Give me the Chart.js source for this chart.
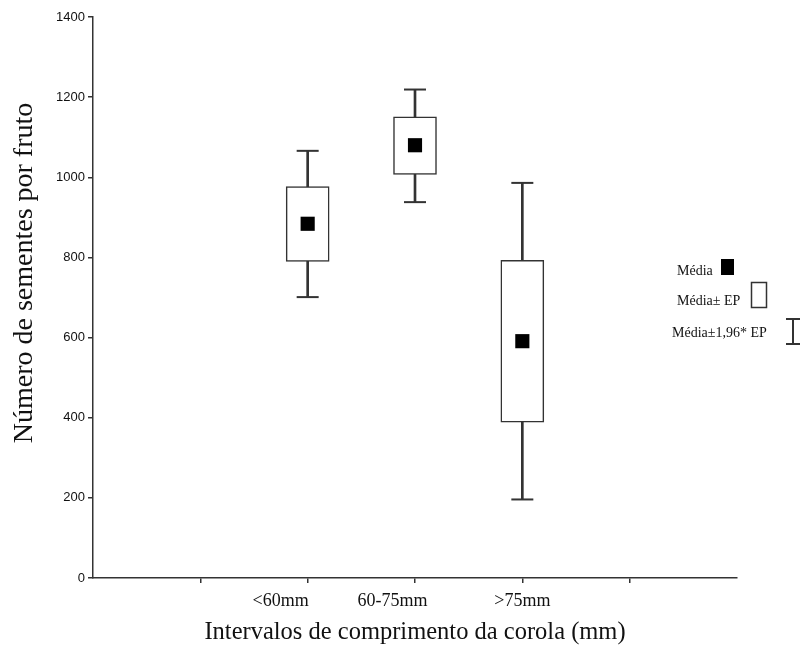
<!DOCTYPE html>
<html>
<head>
<meta charset="UTF-8">
<title>Sementes por fruto</title>
<style>
	body { margin: 0; background: #fff; }
	.container { width: 800px; height: 649px; position: relative; }
</style>
<script src="https://cdn.jsdelivr.net/npm/chart.js@4.4.1/dist/chart.umd.min.js"></script>
</head>
<body>
<div class="container">
	<canvas id="myChart" width="800" height="649"></canvas>
</div>
<script>
	// categories and values
	var categories = ['<60mm', '60-75mm', '>75mm'];
	var means  = [884, 1080, 591];
	var seLow  = [790, 1007, 389];   // Média - EP
	var seHigh = [977, 1151, 793];   // Média + EP
	var ciLow  = [701, 938, 196];    // Média - 1,96*EP
	var ciHigh = [1066, 1219, 986];  // Média + 1,96*EP
	var yTicks = [0, 200, 400, 600, 800, 1000, 1200, 1400];

	var ink = '#333';
	var serif = '"Liberation Serif", "Times New Roman", serif';

	// categories sit on slots 2..4 of a 0..6 axis
	function slot(i) { return i + 2; }

	// in the original the first two labels sit left of their tick
	var labelPad = [12, 10, 0];

	var boxData = [], whiskerData = [], capData = [], meanData = [];
	categories.forEach(function(c, i) {
		boxData.push({ x: slot(i), y: [seLow[i], seHigh[i]] });
		whiskerData.push({ x: slot(i), y: [ciLow[i], ciHigh[i]] });
		capData.push({ x: slot(i), y: ciLow[i] });
		capData.push({ x: slot(i), y: ciHigh[i] });
		meanData.push({ x: slot(i), y: means[i] });
	});

	// legend on the right, text first then the symbol
	var sideLegend = {
		id: 'sideLegend',
		afterDraw: function(chart) {
			var ctx = chart.ctx;
			ctx.save();
			ctx.fillStyle = '#111';
			ctx.font = '14px ' + serif;
			ctx.textBaseline = 'alphabetic';
			ctx.textAlign = 'left';
			ctx.fillText('Média', 677, 275);
			ctx.fillText('Média\u00b1 EP', 677, 305);
			ctx.fillText('Média\u00b11,96* EP', 672, 337);

			ctx.fillStyle = '#000';
			ctx.fillRect(721, 259, 13, 16);

			ctx.strokeStyle = ink;
			ctx.lineWidth = 1.5;
			ctx.strokeRect(751.5, 282.5, 15, 25);

			ctx.lineWidth = 2;
			ctx.beginPath();
			ctx.moveTo(793, 319); ctx.lineTo(793, 344);
			ctx.moveTo(786, 319); ctx.lineTo(801, 319);
			ctx.moveTo(786, 344); ctx.lineTo(801, 344);
			ctx.stroke();
			ctx.restore();
		}
	};

	var ctx = document.getElementById('myChart').getContext('2d');
	var myChart = new Chart(ctx, {
		type: 'bar',
		data: {
			datasets: [
				{
					type: 'scatter',
					data: meanData,
					pointStyle: 'rect',
					radius: 10,
					backgroundColor: '#000',
					borderColor: '#000',
					borderWidth: 0,
					order: 0
				},
				{
					type: 'bar',
					data: boxData,
					backgroundColor: '#fff',
					borderColor: ink,
					borderWidth: 1.5,
					borderSkipped: false,
					barThickness: 43,
					grouped: false,
					order: 1
				},
				{
					type: 'scatter',
					data: capData,
					pointStyle: 'line',
					radius: 11,
					borderColor: ink,
					borderWidth: 2,
					order: 2
				},
				{
					type: 'bar',
					data: whiskerData,
					backgroundColor: ink,
					borderWidth: 0,
					barThickness: 2,
					grouped: false,
					order: 3
				}
			]
		},
		options: {
			responsive: false,
			animation: false,
			layout: { padding: { top: 17, right: 63, left: 0, bottom: 0 } },
			plugins: {
				legend: { display: false },
				tooltip: { enabled: false }
			},
			scales: {
				x: {
					type: 'linear',
					min: 0,
					max: 6,
					offset: false,
					afterFit: function(scale) { scale.height = 71; },
					grid: {
						offset: false,
						drawOnChartArea: false,
						drawTicks: true,
						tickLength: 5,
						color: function(c) {
							var v = c.tick ? c.tick.value : 0;
							return (v === 0 || v === 6) ? 'rgba(0,0,0,0)' : ink;
						},
						lineWidth: 1.5
					},
					border: { display: true, color: ink, width: 1.5 },
					ticks: {
						stepSize: 1,
						autoSkip: false,
						maxRotation: 0,
						padding: 7,
						color: '#111',
						font: { family: serif, size: 18 },
						callback: function(v) {
							var i = v - 2;
							if (i < 0 || i >= categories.length) return '';
							return categories[i] + ' '.repeat(labelPad[i]);
						}
					},
					title: {
						display: true,
						text: 'Intervalos de comprimento da corola (mm)',
						color: '#111',
						font: { family: serif, size: 24.5 },
						padding: { top: 0, bottom: 2 }
					}
				},
				y: {
					min: 0,
					max: 1400,
					afterFit: function(scale) { scale.width = 93; },
					afterBuildTicks: function(scale) {
						scale.ticks = yTicks.map(function(v) { return { value: v }; });
					},
					grid: {
						drawOnChartArea: false,
						drawTicks: true,
						tickLength: 5,
						color: ink,
						lineWidth: 1.5
					},
					border: { display: true, color: ink, width: 1.5 },
					ticks: {
						padding: 3,
						color: '#111',
						font: { family: '"Liberation Sans Narrow", "Liberation Sans", Arial, sans-serif', size: 13 },
						callback: function(v) { return String(v); }
					},
					title: {
						display: true,
						// leading spaces lift the title a little above the axis centre, as in the original
						text: '       Número de sementes por fruto',
						color: '#111',
						font: { family: serif, size: 28 },
						padding: { top: 8, bottom: 0 }
					}
				}
			}
		},
		plugins: [sideLegend]
	});
</script>
</body>
</html>
